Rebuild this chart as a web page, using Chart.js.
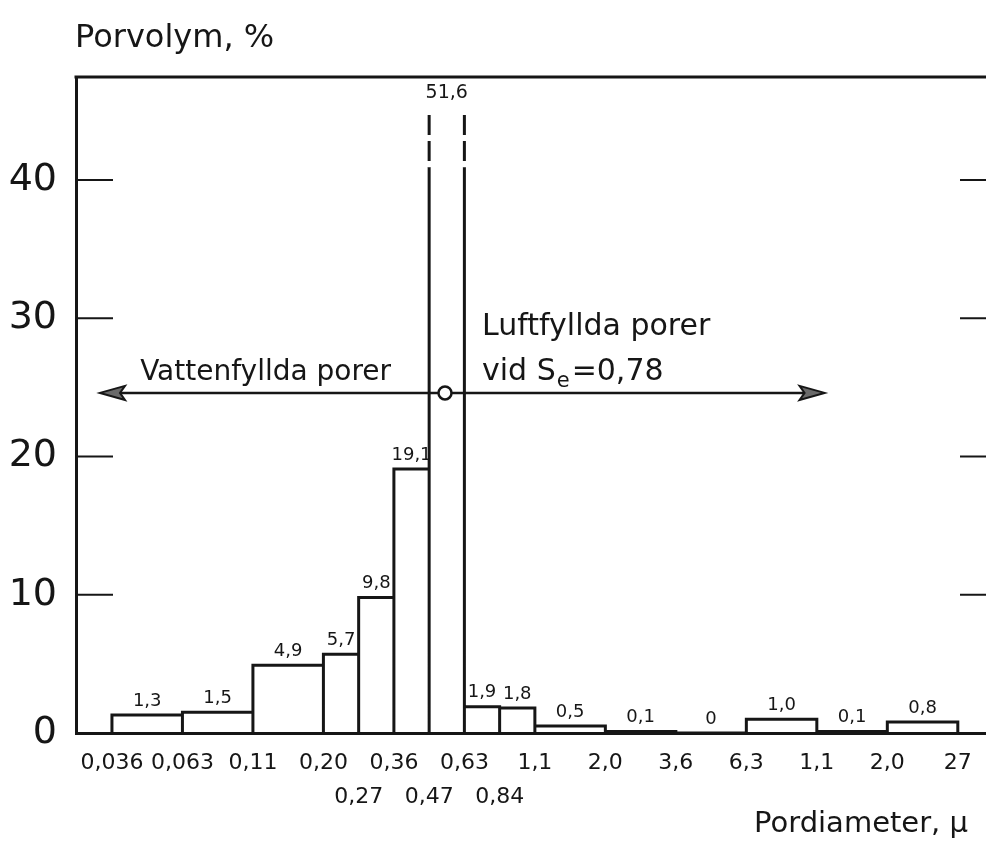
<!DOCTYPE html>
<html>
<head>
<meta charset="utf-8">
<script src="https://cdn.jsdelivr.net/npm/chart.js@4.4.1/dist/chart.umd.min.js"></script>
<style>
  html, body { margin: 0; padding: 0; background: #fff; overflow: hidden; }
  #wrap { width: 986px; height: 843px; position: relative; }
</style>
</head>
<body>
<div id="wrap"><canvas id="c" width="986" height="843"></canvas></div>
<script>
// ---------- data ----------
// class boundaries (pore diameter, µ) as written under the axis
const edgeLabels = ['0,036', '0,063', '0,11', '0,20', '0,27', '0,36', '0,47', '0,63', '0,84', '1,1', '2,0', '3,6', '6,3', '1,1', '2,0', '27'];
// position of each boundary along the drawing's class axis (half-class steps)
const edgeSteps = [0, 2, 4, 6, 7, 8, 9, 10, 11, 12, 14, 16, 18, 20, 22, 24];
// boundaries whose label is written on the second row
const lowerRowLabels = [false, false, false, false, true, false, true, false, true, false, false, false, false, false, false, false];
// pore volume per class, %
const poreVolume = [1.3, 1.5, 4.9, 5.7, 9.8, 19.1, 51.6, 1.9, 1.8, 0.5, 0.1, 0, 1.0, 0.1, 0.8];
// y axis ticks
const yTicks = [0, 10, 20, 30, 40];

const yTitle = 'Porvolym, %';
const xTitle = 'Pordiameter, μ';
const leftNote = 'Vattenfyllda porer';
const rightNote1 = 'Luftfyllda porer';
const saturation = '0,78';

// ---------- drawing constants ----------
const INK = '#161616';
const FONT = '"DejaVu Sans", sans-serif';
const Y_MAX = 47.45;
const X_MIN = -1.02, X_MAX = 24.8;
const BREAK_AT = 40.9;   // axis break: solid part of an off-scale bar ends here
const DASH_TOP = 44.7;   // dashed continuation ends here
const ARROW_Y = 24.6, ARROW_L = -0.34, ARROW_R = 20.22, DIVIDER = 9.45;

function fmt(v) { return v === 0 ? '0' : v.toFixed(1).replace('.', ','); }

// build histogram outlines from the data
const solidPts = [], dashedPts = [];
poreVolume.forEach((v, i) => {
  const x0 = edgeSteps[i], x1 = edgeSteps[i + 1];
  if (v > BREAK_AT) {
    solidPts.push({x: x0, y: 0}, {x: x0, y: BREAK_AT}, {x: x0, y: null},
                  {x: x1, y: BREAK_AT}, {x: x1, y: 0});
    dashedPts.push({x: x0, y: DASH_TOP}, {x: x0, y: BREAK_AT}, {x: x0, y: null},
                   {x: x1, y: DASH_TOP}, {x: x1, y: BREAK_AT});
  } else {
    solidPts.push({x: x0, y: 0}, {x: x0, y: v}, {x: x1, y: v}, {x: x1, y: 0});
  }
});

function seg(ctx, x0, y0, x1, y1) {
  ctx.beginPath(); ctx.moveTo(x0, y0); ctx.lineTo(x1, y1); ctx.stroke();
}

const decor = {
  id: 'decor',
  afterDatasetsDraw(chart) {
    const {ctx, chartArea: a, scales: {x, y}} = chart;
    ctx.save();
    ctx.strokeStyle = INK; ctx.fillStyle = INK; ctx.lineCap = 'butt';

    // top frame line
    ctx.lineWidth = 3;
    seg(ctx, a.left - 1.5, a.top, a.right, a.top);

    // inward tick marks on both sides
    ctx.lineWidth = 2;
    yTicks.forEach(t => {
      if (t === 0) return;
      const py = y.getPixelForValue(t);
      seg(ctx, a.left, py, a.left + 37, py);
      seg(ctx, a.right - 26, py, a.right, py);
    });

    // value labels
    ctx.textAlign = 'center'; ctx.textBaseline = 'middle';
    poreVolume.forEach((v, i) => {
      const cx = x.getPixelForValue((edgeSteps[i] + edgeSteps[i + 1]) / 2);
      if (v > BREAK_AT) {
        ctx.font = '19px ' + FONT;
        ctx.fillText(fmt(v), cx, y.getPixelForValue(DASH_TOP) - 22);
      } else {
        ctx.font = '18px ' + FONT;
        ctx.fillText(fmt(v), cx, y.getPixelForValue(v) - 14);
      }
    });

    // double arrow
    const ya = y.getPixelForValue(ARROW_Y);
    const xl = x.getPixelForValue(ARROW_L), xr = x.getPixelForValue(ARROW_R);
    ctx.lineWidth = 2.5;
    seg(ctx, xl + 6, ya, xr - 6, ya);
    ctx.lineWidth = 2;
    ctx.fillStyle = '#6a6a6a';
    [[xl, 1], [xr, -1]].forEach(([tx, d]) => {
      ctx.beginPath();
      ctx.moveTo(tx, ya);
      ctx.lineTo(tx + d * 25, ya - 7);
      ctx.lineTo(tx + d * 20, ya);
      ctx.lineTo(tx + d * 25, ya + 7);
      ctx.closePath();
      ctx.fill(); ctx.stroke();
    });

    // divider circle
    ctx.fillStyle = '#fff';
    ctx.lineWidth = 2.5;
    ctx.beginPath();
    ctx.arc(x.getPixelForValue(DIVIDER), ya, 6.5, 0, Math.PI * 2);
    ctx.fill(); ctx.stroke();

    // notes
    ctx.fillStyle = INK;
    ctx.textAlign = 'left'; ctx.textBaseline = 'alphabetic';
    ctx.font = '28px ' + FONT;
    ctx.fillText(leftNote, x.getPixelForValue(0.8), ya - 13);
    ctx.font = '30px ' + FONT;
    const rx = x.getPixelForValue(10.5);
    ctx.fillText(rightNote1, rx, ya - 58);
    let cx = rx;
    const by = ya - 13;
    ctx.fillText('vid S', cx, by); cx += ctx.measureText('vid S').width;
    ctx.font = '21px ' + FONT;
    ctx.fillText('e', cx + 1, by + 7); cx += ctx.measureText('e').width + 3;
    ctx.font = '30px ' + FONT;
    ctx.fillText('=' + saturation, cx, by);

    // axis titles
    ctx.font = '32px ' + FONT;
    ctx.textAlign = 'left';
    ctx.fillText(yTitle, a.left - 1, 47);
    ctx.font = '29px ' + FONT;
    ctx.textAlign = 'right';
    ctx.fillText(xTitle, 968, 832);
    ctx.restore();
  }
};

new Chart(document.getElementById('c'), {
  type: 'scatter',
  data: {
    datasets: [
      {
        data: solidPts, showLine: true, borderColor: INK, borderWidth: 3,
        pointRadius: 0, pointHoverRadius: 0, spanGaps: false, tension: 0, fill: false
      },
      {
        data: dashedPts, showLine: true, borderColor: INK, borderWidth: 3,
        borderDash: [20, 6], pointRadius: 0, pointHoverRadius: 0, spanGaps: false, tension: 0, fill: false
      }
    ]
  },
  options: {
    responsive: false,
    animation: false,
    events: [],
    layout: { padding: { top: 77, right: 0, left: 0, bottom: 0 } },
    plugins: { legend: { display: false }, tooltip: { enabled: false }, title: { display: false } },
    scales: {
      x: {
        type: 'linear', min: X_MIN, max: X_MAX,
        grid: { display: false, drawTicks: false },
        border: { display: true, color: INK, width: 3 },
        afterFit(s) { s.height = 110; },
        afterBuildTicks(s) { s.ticks = edgeSteps.map(v => ({ value: v })); },
        ticks: {
          autoSkip: false, maxRotation: 0, minRotation: 0, padding: 13,
          color: INK, font: { family: FONT, size: 22, lineHeight: 1.55 },
          callback(value, index) {
            const i = edgeSteps.indexOf(value);
            if (i < 0) return '';
            return lowerRowLabels[i] ? ['', edgeLabels[i]] : edgeLabels[i];
          }
        }
      },
      y: {
        type: 'linear', min: 0, max: Y_MAX,
        grid: { display: false, drawTicks: false },
        border: { display: true, color: INK, width: 3 },
        afterFit(s) { s.width = 76; },
        afterBuildTicks(s) { s.ticks = yTicks.map(v => ({ value: v })); },
        ticks: {
          padding: 19, color: INK,
          font: { family: FONT, size: 38 },
          callback(value) { return String(value); }
        }
      }
    }
  },
  plugins: [decor]
});
</script>
</body>
</html>
